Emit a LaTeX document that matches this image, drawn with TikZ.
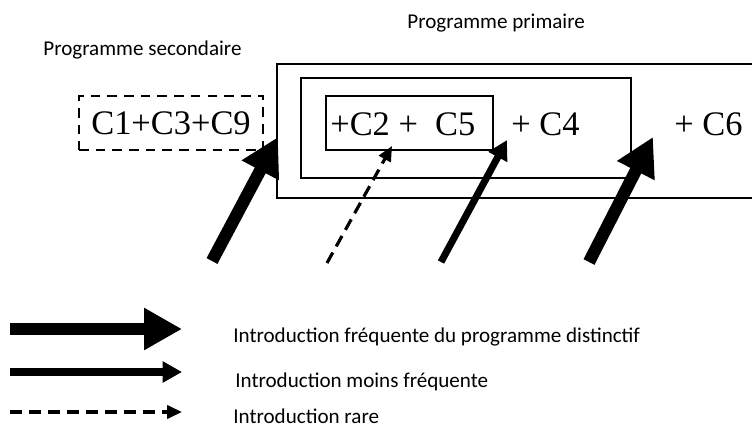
\documentclass[tikz,border=0pt]{standalone}
\usepackage{fontspec}
\setmainfont{Carlito}
\newfontfamily\timesfont{Liberation Serif}
\usetikzlibrary{arrows.meta,positioning}

\begin{document}
\begin{tikzpicture}[x=0.02cm, y=-0.02cm,
  lbl/.style={font=\fontsize{12}{14}\selectfont, inner sep=0pt, anchor=base west},
  ctext/.style={font=\timesfont\fontsize{19.6}{22}\selectfont, inner sep=0pt},
  prgbox/.style={draw, line width=1pt, inner sep=0pt},
  bigarrow/.style={-{Triangle[length=21.5pt, width=22.5pt]}, line width=7pt},
  midarrow/.style={-{Triangle[length=11pt, width=11.5pt]}, line width=4pt},
  rarearrow/.style={-{Triangle[length=8.5pt, width=7.5pt]}, line width=1.8pt, dash pattern=on 6.8pt off 4pt}]
\useasboundingbox (0,0) rectangle (752,426);
% Titles
\node[lbl] (sectitle) at (43,55.5) {Programme secondaire};
\node[lbl] (primtitle) at (407,28.5) {Programme primaire};
% Secondary program
\node[prgbox, ctext, dashed, dash pattern=on 5.5pt off 4pt, line width=1.3pt,
  minimum width=3.68cm, minimum height=1.08cm] (sec) at (171,123) {C1+C3+C9};
% Primary program, outer frame open to the right
\draw[line width=1.2pt] (752,64) -| (277,198) -- (752,198);
\node[prgbox, minimum width=6.6cm, minimum height=2cm] (mid) at (466,128) {};
\node[prgbox, minimum width=3.34cm, minimum height=1.08cm] (inner) at (409.5,123) {};
\node[ctext, anchor=base west] (c25) at (330,135) {+C2 + \ C5};
\node[ctext, anchor=base west] (c4) at (511,135) {+ C4};
\node[ctext, anchor=base west] (c6) at (674,135) {+ C6};
% Introductions
\coordinate (a1s) at (212,261);
\coordinate (a1e) at (278,137);
\coordinate (a2s) at (327,263);
\coordinate (a2e) at (392,146);
\coordinate (a3s) at (441,262);
\coordinate (a3e) at (507,140);
\coordinate (a4s) at (589,262);
\coordinate (a4e) at (653,137);
\draw[bigarrow] (a1s) -- (a1e);
\draw[rarearrow] (a2s) -- (a2e);
\draw[midarrow] (a3s) -- (a3e);
\draw[bigarrow] (a4s) -- (a4e);
% Legend
\coordinate (l1s) at (10,329);
\coordinate (l1e) at (182,329);
\coordinate (l2s) at (10,372);
\coordinate (l2e) at (182,372);
\coordinate (l3s) at (10,412);
\coordinate (l3e) at (182,412);
\draw[bigarrow] (l1s) -- (l1e);
\draw[midarrow] (l2s) -- (l2e);
\draw[rarearrow] (l3s) -- (l3e);
\node[lbl] (leg1) at (233,342) {Introduction fréquente du programme distinctif};
\node[lbl] (leg2) at (235,387) {Introduction moins fréquente};
\node[lbl] (leg3) at (233,423) {Introduction rare};
\end{tikzpicture}
\end{document}
